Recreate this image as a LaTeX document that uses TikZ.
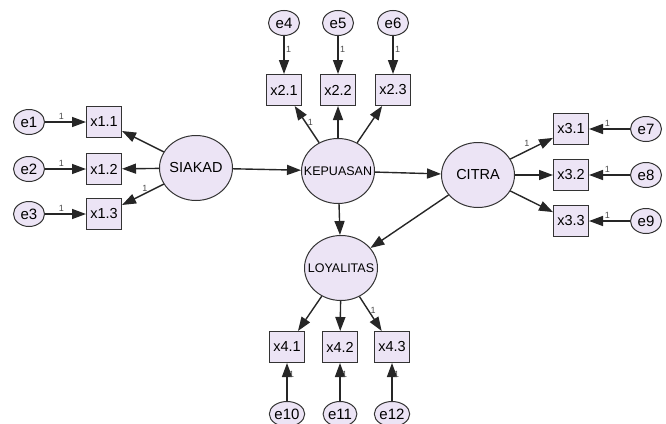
\documentclass[tikz,border=0pt]{standalone}
\usepackage{fontspec}
\setmainfont{Liberation Sans}
\usetikzlibrary{
  shapes,
  positioning,
  arrows.meta
}
\definecolor{lavender}{RGB}{236,228,245}
\tikzset{
  latent/.style = {ellipse, draw=black!80, fill=lavender, line width=1pt,
    minimum width=73pt, minimum height=65pt, inner ysep=0pt, inner xsep=-12pt,
    font=\fontsize{14}{14}\selectfont},
  observed/.style = {rectangle, draw=black!80, fill=lavender, line width=1pt,
    minimum width=35pt, minimum height=31pt, inner sep=0pt,
    font=\fontsize{14.5}{14.5}\selectfont},
  error/.style = {ellipse, draw=black!80, fill=lavender, line width=1pt,
    minimum width=31pt, minimum height=25pt, inner sep=0pt,
    font=\fontsize{15}{15}\selectfont},
  link/.style = {->, line width=1.4pt, black!85},
  one/.style = {font=\fontsize{9}{9}\selectfont, inner sep=1.5pt, text=black!70}
}

\begin{document}
\begin{tikzpicture}[x=1pt,y=-1pt,>={Triangle[length=14pt,width=10pt]}]
    \useasboundingbox (0,0) rectangle (666,423);
    % latent variables
    \node[latent,font=\fontsize{14.5}{14.5}\selectfont] (siakad) at (196,168) {SIAKAD};
    \node[latent,font=\fontsize{12.5}{12.5}\selectfont] (kepuasan) at (338,171) {KEPUASAN};
    \node[latent,font=\fontsize{14.5}{14.5}\selectfont] (citra) at (478,175) {CITRA};
    \node[latent,font=\fontsize{12.5}{12.5}\selectfont] (loyalitas) at (341,268) {LOYALITAS};

    \draw[link] (siakad) -- (kepuasan);
    \draw[link] (kepuasan) -- (citra);
    \draw[link] (kepuasan) -- (loyalitas);
    \draw[link] (citra) -- (loyalitas);

    % SIAKAD
    \foreach \i/\y in {1/122,2/169,3/214}{
      \node[observed] (x1\i) at (104,\y) {x1.\i};
      \node[error,left = 41pt of x1\i] (e\i) {e\i};
      \draw[link] (e\i) -- node[one,pos=0.4,above]{1} (x1\i);
    }
    \draw[link] (siakad) -- (x11);
    \draw[link] (siakad) -- (x12);
    \draw[link] (siakad) -- node[one,above,pos=0.45]{1} (x13);

    % KEPUASAN
    \foreach \i/\x/\e in {1/284/4,2/338/5,3/393/6}{
      \node[observed] (x2\i) at (\x,90) {x2.\i};
      \node[error,above = 38pt of x2\i] (e\e) {e\e};
      \draw[link] (e\e) -- node[one,pos=0.35,right]{1} (x2\i);
    }
    \draw[link] (kepuasan) -- node[one,right,pos=0.55]{1} (x21);
    \draw[link] (kepuasan) -- (x22);
    \draw[link] (kepuasan) -- (x23);

    % CITRA
    \foreach \i/\y/\e in {1/129/7,2/175/8,3/221/9}{
      \node[observed] (x3\i) at (571,\y) {x3.\i};
      \node[error,right = 41pt of x3\i] (e\e) {e\e};
      \draw[link] (e\e) -- node[one,pos=0.55,above]{1} (x3\i);
    }
    \draw[link] (citra) -- node[one,above left,pos=0.5]{1} (x31);
    \draw[link] (citra) -- (x32);
    \draw[link] (citra) -- (x33);

    % LOYALITAS
    \foreach \i/\x/\e in {1/287/10,2/340/11,3/392/12}{
      \node[observed] (x4\i) at (\x,347) {x4.\i};
      \node[error,below = 38pt of x4\i] (e\e) {e\e};
      \draw[link] (e\e) -- node[one,pos=0.7,right]{1} (x4\i);
    }
    \draw[link] (loyalitas) -- (x41);
    \draw[link] (loyalitas) -- (x42);
    \draw[link] (loyalitas) -- node[one,right,pos=0.4]{1} (x43);
\end{tikzpicture}
\end{document}
